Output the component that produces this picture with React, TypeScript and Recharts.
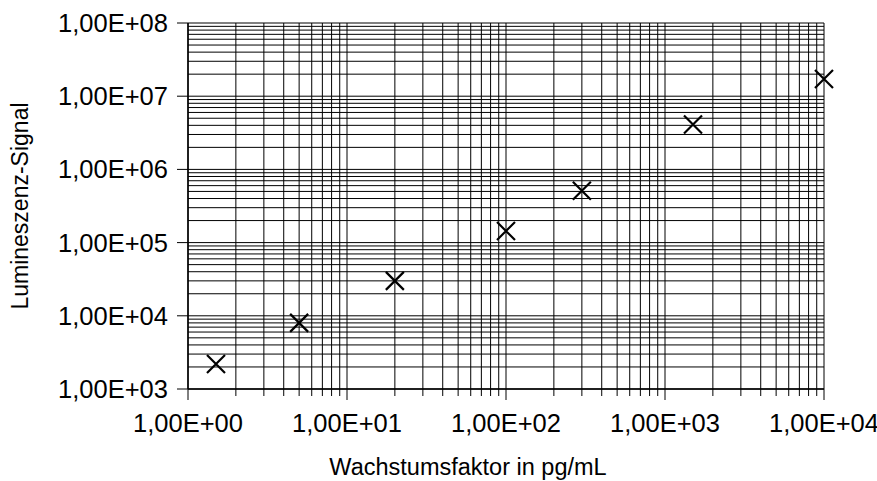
import { ScatterChart, Scatter, XAxis, YAxis, ReferenceLine } from "recharts";

// Measured points: growth factor (pg/mL) vs luminescence signal
const concentrations = [1.5, 5, 20, 100, 300, 1500, 10000];
const signals = [2200, 8000, 30000, 144000, 510000, 4100000, 17200000];

const xMajorTicks = [1, 10, 100, 1000, 10000];
const yMajorTicks = [1e3, 1e4, 1e5, 1e6, 1e7, 1e8];
const minorSteps = [2, 3, 4, 5, 6, 7, 8, 9];

const points = concentrations.map((x, i) => ({ x, y: signals[i] }));

// major + minor values of each decade (last major closes the range)
function withMinors(majors: number[]): number[] {
  const out: number[] = [];
  majors.forEach((m, i) => {
    out.push(m);
    if (i < majors.length - 1) minorSteps.forEach((s) => out.push(m * s));
  });
  return out;
}

const xGrid = withMinors(xMajorTicks);
const yGrid = withMinors(yMajorTicks);

const FONT = "'Liberation Sans', Arial, sans-serif";
const TICK_FONT = 25.5;

function sci(v: number): string {
  const e = Math.round(Math.log10(v));
  return `1,00E+${String(e).padStart(2, "0")}`;
}

function isMajor(v: number): boolean {
  return xMajorTicks.includes(v) || yMajorTicks.includes(v);
}

function XTick(props: any) {
  const { x, y, payload } = props;
  const major = isMajor(payload.value);
  return (
    <g>
      <line x1={x} x2={x} y1={y} y2={y + (major ? 11 : 7)} stroke="#000" strokeWidth={1} />
      {major && (
        <text x={x} y={y + 43} textAnchor="middle" fontSize={TICK_FONT} fontFamily={FONT} fill="#000">
          {sci(payload.value)}
        </text>
      )}
    </g>
  );
}

function YTick(props: any) {
  const { x, y, payload } = props;
  return (
    <g>
      <line x1={x - 11} x2={x} y1={y} y2={y} stroke="#000" strokeWidth={1} />
      <text x={x - 20} y={y + 9} textAnchor="end" fontSize={TICK_FONT} fontFamily={FONT} fill="#000">
        {sci(payload.value)}
      </text>
    </g>
  );
}

function Cross(props: any) {
  const { cx, cy } = props;
  const r = 9;
  return (
    <path
      d={`M${cx - r},${cy - r}L${cx + r},${cy + r}M${cx - r},${cy + r}L${cx + r},${cy - r}`}
      stroke="#000"
      strokeWidth={2.2}
      fill="none"
    />
  );
}

export default function App() {
  return (
    <div style={{ position: "absolute", left: 0, top: 0, background: "#fff" }}>
      <ScatterChart width={877} height={481} margin={{ top: 23, right: 53, bottom: 0, left: 0 }}>
        {yGrid.map((v) => (
          <ReferenceLine key={`h${v}`} y={v} stroke="#000" strokeWidth={1} />
        ))}
        {xGrid.map((v) => (
          <ReferenceLine key={`v${v}`} x={v} stroke="#000" strokeWidth={1} />
        ))}
        <XAxis
          type="number"
          dataKey="x"
          scale="log"
          domain={[1, 10000]}
          ticks={xGrid}
          interval={0}
          tick={XTick}
          tickLine={false}
          tickSize={0}
          tickMargin={0}
          height={92}
          axisLine={{ stroke: "#000", strokeWidth: 1.5 }}
          label={{
            value: "Wachstumsfaktor in pg/mL",
            position: "insideBottom",
            offset: 6,
            dx: -38,
            fontSize: 23.5,
            fontFamily: FONT,
            fill: "#000",
          }}
        />
        <YAxis
          type="number"
          dataKey="y"
          scale="log"
          domain={[1e3, 1e8]}
          ticks={yMajorTicks}
          interval={0}
          tick={YTick}
          tickLine={false}
          tickSize={0}
          tickMargin={0}
          width={188}
          axisLine={{ stroke: "#000", strokeWidth: 1.5 }}
          label={{
            value: "Lumineszenz-Signal",
            position: "center",
            angle: -90,
            dx: -74,
            fontSize: 23,
            fontFamily: FONT,
            fill: "#000",
          }}
        />
        <Scatter data={points} shape={Cross} isAnimationActive={false} />
      </ScatterChart>
    </div>
  );
}
